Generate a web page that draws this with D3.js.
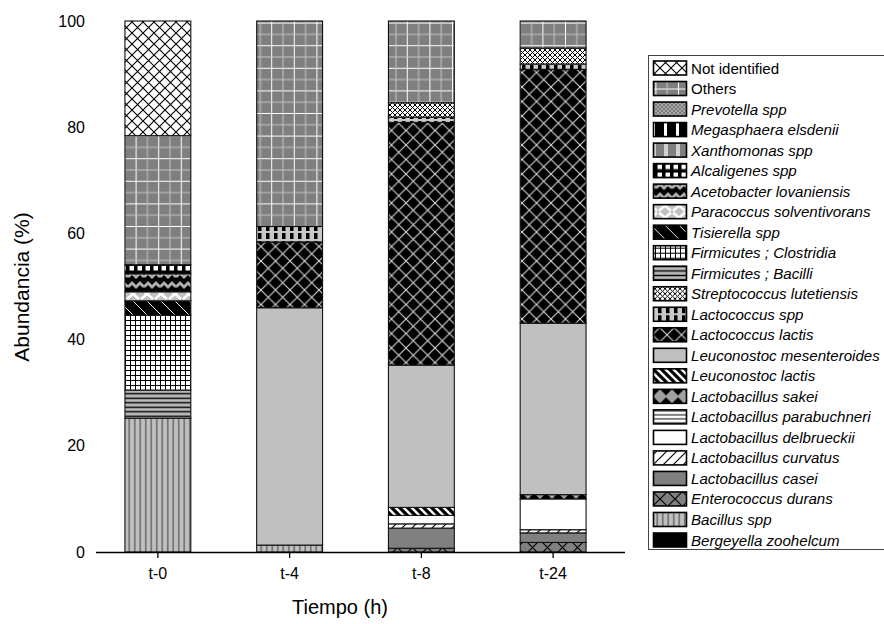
<!DOCTYPE html>
<html>
<head>
<meta charset="utf-8">
<script src="https://cdn.jsdelivr.net/npm/d3@7"></script>
<style>
  html, body { margin: 0; padding: 0; background: #fff; }
  svg { display: block; font-family: Arial, "Liberation Sans", sans-serif; }
</style>
</head>
<body>
<svg id="chart" width="884" height="624"></svg>
<script>
// Sampling times
const categories = ["t-0", "t-4", "t-8", "t-24"];
const yTicks = [0, 20, 40, 60, 80, 100];

// Relative abundance (%) of each taxon at t-0, t-4, t-8, t-24
const bergeyellaZoohelcum       = [0, 0, 0, 0];
const bacillusSpp               = [25.2, 1.3, 0, 0];
const enterococcusDurans        = [0, 0, 0.7, 1.8];
const lactobacillusCasei        = [0, 0, 3.8, 1.8];
const lactobacillusCurvatus     = [0, 0, 0.8, 0.6];
const lactobacillusDelbrueckii  = [0, 0, 1.6, 5.8];
const lactobacillusParabuchneri = [0, 0, 0, 0];
const lactobacillusSakei        = [0, 0, 0, 0.8];
const leuconostocLactis         = [0, 0, 1.5, 0];
const leuconostocMesenteroides  = [0, 44.7, 26.8, 32.3];
const lactococcusLactis         = [0, 12.4, 45.7, 47.8];
const lactococcusSpp            = [0, 2.9, 1.0, 1.0];
const streptococcusLutetiensis  = [0, 0, 2.7, 3.0];
const firmicutesBacilli         = [5.3, 0, 0, 0];
const firmicutesClostridia      = [14.1, 0, 0, 0];
const tisierellaSpp             = [2.7, 0, 0, 0];
const paracoccusSolventivorans  = [1.7, 0, 0, 0];
const acetobacterLovaniensis    = [3.4, 0, 0, 0];
const alcaligenesSpp            = [1.7, 0, 0, 0];
const xanthomonasSpp            = [0, 0, 0, 0];
const megasphaeraElsdenii       = [0, 0, 0, 0];
const prevotellaSpp             = [0, 0, 0, 0];
const others                    = [24.3, 38.7, 15.4, 5.1];
const notIdentified             = [21.6, 0, 0, 0];

// Stack order, bottom to top
const series = [
  { name: "Bergeyella zoohelcum",       fill: "bergeyella",   italic: true,  values: bergeyellaZoohelcum },
  { name: "Bacillus spp",               fill: "bacillus",     italic: true,  values: bacillusSpp },
  { name: "Enterococcus durans",        fill: "enterococcus", italic: true,  values: enterococcusDurans },
  { name: "Lactobacillus casei",        fill: "casei",        italic: true,  values: lactobacillusCasei },
  { name: "Lactobacillus curvatus",     fill: "curvatus",     italic: true,  values: lactobacillusCurvatus },
  { name: "Lactobacillus delbrueckii",  fill: "delbrueckii",  italic: true,  values: lactobacillusDelbrueckii },
  { name: "Lactobacillus parabuchneri", fill: "parabuchneri", italic: true,  values: lactobacillusParabuchneri },
  { name: "Lactobacillus sakei",        fill: "sakei",        italic: true,  values: lactobacillusSakei },
  { name: "Leuconostoc lactis",         fill: "leuLactis",    italic: true,  values: leuconostocLactis },
  { name: "Leuconostoc mesenteroides",  fill: "mesenteroides",italic: true,  values: leuconostocMesenteroides },
  { name: "Lactococcus lactis",         fill: "lacLactis",    italic: true,  values: lactococcusLactis },
  { name: "Lactococcus spp",            fill: "lacSpp",       italic: true,  values: lactococcusSpp },
  { name: "Streptococcus lutetiensis",  fill: "strepto",      italic: true,  values: streptococcusLutetiensis },
  { name: "Firmicutes ; Bacilli",       fill: "bacilli",      italic: true,  values: firmicutesBacilli },
  { name: "Firmicutes ; Clostridia",    fill: "clostridia",   italic: true,  values: firmicutesClostridia },
  { name: "Tisierella spp",             fill: "tisierella",   italic: true,  values: tisierellaSpp },
  { name: "Paracoccus solventivorans",  fill: "paracoccus",   italic: true,  values: paracoccusSolventivorans },
  { name: "Acetobacter lovaniensis",    fill: "acetobacter",  italic: true,  values: acetobacterLovaniensis },
  { name: "Alcaligenes spp",            fill: "alcaligenes",  italic: true,  values: alcaligenesSpp },
  { name: "Xanthomonas spp",            fill: "xanthomonas",  italic: true,  values: xanthomonasSpp },
  { name: "Megasphaera elsdenii",       fill: "megasphaera",  italic: true,  values: megasphaeraElsdenii },
  { name: "Prevotella spp",             fill: "prevotella",   italic: true,  values: prevotellaSpp },
  { name: "Others",                     fill: "others",       italic: false, values: others },
  { name: "Not identified",             fill: "notId",        italic: false, values: notIdentified }
];

const svg = d3.select("#chart");
const defs = svg.append("defs");

// ---- fill patterns ----
function pattern(id, w, h, bg, draw) {
  const p = defs.append("pattern")
    .attr("id", id)
    .attr("patternUnits", "userSpaceOnUse")
    .attr("width", w).attr("height", h);
  if (bg) p.append("rect").attr("width", w).attr("height", h).attr("fill", bg);
  if (draw) draw(p);
}
function lines(p, d, color, width) {
  p.append("path").attr("d", d).attr("fill", "none")
    .attr("stroke", color).attr("stroke-width", width);
}

pattern("bergeyella", 4, 4, "#000");
pattern("bacillus", 5.5, 5.5, "#c0c0c0", p => lines(p, "M2.75,0V5.5", "#3a3a3a", 1));
pattern("enterococcus", 15, 15, "#808080", p => lines(p, "M0,0L15,15M15,0L0,15", "#000", 1.2));
pattern("casei", 4, 4, "#808080");
pattern("curvatus", 10, 10, "#fff", p => lines(p, "M0,10L10,0M-2,2L2,-2M8,12L12,8", "#000", 1.2));
pattern("delbrueckii", 4, 4, "#fff");
pattern("parabuchneri", 4, 4, "#fff", p => lines(p, "M0,2H4", "#000", 1));
pattern("sakei", 12, 12, "#a0a0a0", p => p.append("path").attr("d", "M6,1L11,6L6,11L1,6Z").attr("fill", "#000"));
pattern("leuLactis", 8, 8, "#000", p => lines(p, "M0,0L8,8M-2,6L2,10M6,-2L10,2", "#fff", 2.4));
pattern("mesenteroides", 4, 4, "#c0c0c0");
pattern("lacLactis", 14.5, 14.5, "#000", p => lines(p, "M0,0L14.5,14.5M14.5,0L0,14.5", "#d8d8d8", 1.1));
pattern("lacSpp", 8, 8, "#c8c8c8", p => p.append("rect").attr("x", 2).attr("y", 1).attr("width", 3.5).attr("height", 6).attr("fill", "#000"));
pattern("strepto", 5, 5, "#fff", p => lines(p, "M0,0L5,5M5,0L0,5", "#000", 1));
pattern("bacilli", 4.5, 4.5, "#b8b8b8", p => lines(p, "M0,2.25H4.5", "#000", 1.4));
pattern("clostridia", 5, 5, "#fff", p => lines(p, "M0.5,0V5M0,0.5H5", "#000", 1));
pattern("tisierella", 14, 14, "#000", p => lines(p, "M0,0L14,14M-2,12L2,16M12,-2L16,2", "#e8e8e8", 1));
pattern("paracoccus", 14, 12, "#c0c0c0", p => lines(p, "M1,1L13,11M13,1L1,11", "#fff", 2.6));
pattern("acetobacter", 16, 10, "#000", p => lines(p, "M0,7L4,3L8,7L12,3L16,7", "#b0b0b0", 3));
pattern("alcaligenes", 8, 8, "#000", p => p.append("rect").attr("x", 1.5).attr("y", 2).attr("width", 4.5).attr("height", 4.5).attr("fill", "#fff"));
pattern("xanthomonas", 12, 4, "#808080", p => p.append("rect").attr("x", 4).attr("width", 4).attr("height", 4).attr("fill", "#d0d0d0"));
pattern("megasphaera", 12, 4, "#000", p => p.append("rect").attr("x", 4).attr("width", 3).attr("height", 4).attr("fill", "#fff"));
pattern("prevotella", 4, 4, "#a8a8a8", p => lines(p, "M0,0L4,4M4,0L0,4", "#707070", 0.8));
pattern("others", 22.6, 22.6, "#7f7f7f", p => {
  lines(p, "M0.5,0V22.6M0,0.5H22.6", "#ffffff", 1);
  lines(p, "M11.8,0V22.6M0,11.8H22.6", "#c4c4c4", 1);
});
pattern("notId", 11, 11, "#fff", p => lines(p, "M0,0L11,11M11,0L0,11", "#000", 1.1));

// ---- scales ----
const x = d3.scaleBand()
  .domain(categories)
  .range([92, 619])
  .paddingInner(0.5)
  .paddingOuter(0.25);
const y = d3.scaleLinear().domain([0, 100]).range([552, 21]);

// ---- stacked bars ----
const table = categories.map((c, i) => {
  const row = { cat: c };
  series.forEach((s, k) => { row["s" + k] = s.values[i]; });
  return row;
});
const stack = d3.stack().keys(series.map((s, k) => "s" + k));
const layers = stack(table);

const barG = svg.append("g");
layers.forEach((layer, k) => {
  barG.append("g")
    .selectAll("rect")
    .data(layer.filter(d => d[1] - d[0] > 0))
    .join("rect")
    .attr("x", d => x(d.data.cat))
    .attr("width", x.bandwidth())
    .attr("y", d => y(d[1]))
    .attr("height", d => y(d[0]) - y(d[1]))
    .attr("fill", `url(#${series[k].fill})`)
    .attr("stroke", "#111")
    .attr("stroke-width", 1.1);
});

// ---- axes ----
const xAxis = svg.append("g")
  .attr("transform", "translate(0,552)")
  .call(d3.axisBottom(x).tickSizeInner(6).tickSizeOuter(0).tickPadding(10));
xAxis.select(".domain").attr("d", "M96,0.5H625").attr("stroke", "#000").attr("stroke-width", 1.3);
xAxis.selectAll(".tick line").attr("stroke", "#000").attr("stroke-width", 1.3);
xAxis.selectAll(".tick text").attr("font-size", 16).attr("fill", "#000");

const yAxis = svg.append("g")
  .attr("transform", "translate(97,0)")
  .call(d3.axisLeft(y).tickValues(yTicks).tickSize(0).tickPadding(12));
yAxis.select(".domain").remove();
yAxis.selectAll(".tick text").attr("font-size", 16).attr("fill", "#000");

// axis titles
svg.append("text")
  .attr("x", 340).attr("y", 614)
  .attr("text-anchor", "middle")
  .attr("font-size", 20)
  .text("Tiempo (h)");
svg.append("text")
  .attr("transform", "translate(29,287) rotate(-90)")
  .attr("text-anchor", "middle")
  .attr("font-size", 21)
  .text("Abundancia (%)");

// ---- legend (top entry = top of stack) ----
const legendItems = series.slice().reverse();
const legend = svg.append("g");
legend.append("rect")
  .attr("x", 648.5).attr("y", 55.5)
  .attr("width", 260).attr("height", 494)
  .attr("fill", "#fff").attr("stroke", "#444").attr("stroke-width", 1);

const rowY = d3.scalePoint()
  .domain(legendItems.map(d => d.name))
  .range([68, 540]);

const rows = legend.selectAll("g.item")
  .data(legendItems)
  .join("g")
  .attr("class", "item")
  .attr("transform", d => `translate(0,${rowY(d.name)})`);
rows.append("rect")
  .attr("x", 653.5).attr("y", -7)
  .attr("width", 33).attr("height", 14)
  .attr("fill", d => `url(#${d.fill})`)
  .attr("stroke", "#000").attr("stroke-width", 1.6);
rows.append("text")
  .attr("x", 691).attr("y", 5.5)
  .attr("font-size", 15.1)
  .attr("font-style", d => d.italic ? "italic" : "normal")
  .text(d => d.name);
</script>
</body>
</html>
